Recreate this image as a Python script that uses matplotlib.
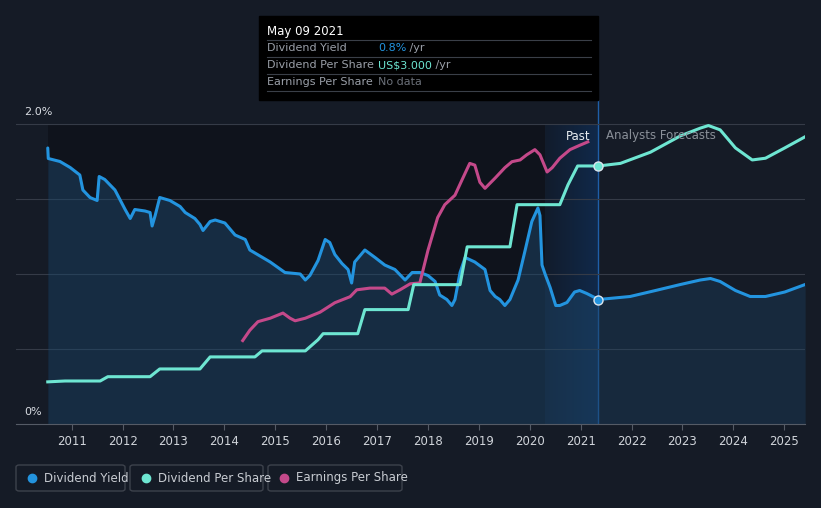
import numpy as np
import matplotlib.pyplot as plt
from matplotlib.patches import FancyBboxPatch, Rectangle
from matplotlib.lines import Line2D
from matplotlib.colors import LinearSegmentedColormap

# DATA
yield_t = [2010.53, 2010.54, 2010.77, 2010.97, 2011.16, 2011.22, 2011.36, 2011.50, 2011.54,
           2011.65, 2011.85, 2012.05, 2012.15, 2012.24, 2012.44, 2012.54, 2012.58, 2012.64,
           2012.73, 2012.93, 2013.13, 2013.23, 2013.42, 2013.52, 2013.58, 2013.72, 2013.82,
           2014.01, 2014.21, 2014.41, 2014.50, 2014.70, 2014.90, 2015.19, 2015.49, 2015.59,
           2015.68, 2015.84, 2015.98, 2016.07, 2016.17, 2016.31, 2016.43, 2016.50, 2016.56,
           2016.76, 2016.96, 2017.15, 2017.35, 2017.55, 2017.69, 2017.84, 2018.00, 2018.14,
           2018.23, 2018.37, 2018.47, 2018.53, 2018.63, 2018.73, 2018.92, 2019.12, 2019.22,
           2019.32, 2019.41, 2019.51, 2019.61, 2019.77, 2019.91, 2020.04, 2020.16, 2020.20,
           2020.24, 2020.30, 2020.40, 2020.51, 2020.59, 2020.73, 2020.88, 2020.98, 2021.12,
           2021.35]
yield_v = [1.84, 1.77, 1.75, 1.71, 1.66, 1.56, 1.51, 1.49, 1.65,
           1.63, 1.56, 1.43, 1.37, 1.43, 1.42, 1.41, 1.32, 1.39,
           1.51, 1.49, 1.45, 1.41, 1.37, 1.33, 1.29, 1.35, 1.36,
           1.34, 1.26, 1.23, 1.16, 1.12, 1.08, 1.01, 1.00, 0.96,
           0.99, 1.09, 1.23, 1.21, 1.13, 1.07, 1.03, 0.94, 1.08,
           1.16, 1.11, 1.06, 1.03, 0.96, 1.01, 1.01, 0.99, 0.95,
           0.86, 0.83, 0.79, 0.83, 1.01, 1.11, 1.08, 1.03, 0.89,
           0.85, 0.83, 0.79, 0.83, 0.96, 1.16, 1.35, 1.44, 1.39,
           1.06, 1.00, 0.91, 0.79, 0.79, 0.81, 0.88, 0.89, 0.87,
           0.83]
yield_fc_t = [2021.35, 2021.97, 2022.47, 2022.96, 2023.35, 2023.55, 2023.74, 2024.04,
              2024.33, 2024.63, 2025.01, 2025.41]
yield_fc_v = [0.83, 0.85, 0.89, 0.93, 0.96, 0.97, 0.95, 0.89, 0.85, 0.85, 0.88, 0.93]

dps_t = [2010.53, 2010.87, 2011.56, 2011.71, 2012.54, 2012.73, 2013.52, 2013.72, 2014.60,
         2014.74, 2015.59, 2015.84, 2015.94, 2016.62, 2016.76, 2017.61, 2017.72, 2018.63,
         2018.77, 2019.61, 2019.75, 2020.59, 2020.75, 2020.94, 2021.35]
dps_v = [0.49, 0.50, 0.50, 0.55, 0.55, 0.64, 0.64, 0.78, 0.78,
         0.85, 0.85, 0.98, 1.05, 1.05, 1.33, 1.33, 1.62, 1.62,
         2.06, 2.06, 2.55, 2.55, 2.78, 3.00, 3.00]
dps_fc_t = [2021.35, 2021.78, 2022.37, 2022.96, 2023.35, 2023.51, 2023.74, 2024.04,
            2024.37, 2024.63, 2025.01, 2025.41]
dps_fc_v = [3.00, 3.03, 3.16, 3.35, 3.44, 3.47, 3.42, 3.21, 3.07, 3.09, 3.21, 3.34]

eps_t = [2014.36, 2014.50, 2014.66, 2014.90, 2015.15, 2015.29, 2015.39, 2015.59, 2015.88,
         2016.17, 2016.47, 2016.60, 2016.86, 2017.15, 2017.29, 2017.45, 2017.65, 2017.84,
         2018.00, 2018.19, 2018.33, 2018.53, 2018.67, 2018.82, 2018.92, 2019.02, 2019.12,
         2019.32, 2019.51, 2019.65, 2019.81, 2019.94, 2020.10, 2020.20, 2020.34, 2020.44,
         2020.59, 2020.79, 2020.98, 2021.14]
eps_v = [0.97, 1.09, 1.19, 1.23, 1.29, 1.23, 1.20, 1.23, 1.30,
         1.41, 1.48, 1.56, 1.58, 1.58, 1.51, 1.56, 1.63, 1.64,
         2.02, 2.40, 2.55, 2.66, 2.84, 3.03, 3.01, 2.81, 2.74,
         2.86, 2.98, 3.05, 3.07, 3.13, 3.19, 3.13, 2.93, 2.98,
         3.09, 3.19, 3.24, 3.28]

years = list(range(2011, 2026))
now = 2021.35
past_start = 2020.30
data_start = 2010.53

# COLOURS
BG = '#151b26'
BLUE = '#2394df'
TEAL = '#6ee6d2'
PINK = '#c4498a'
W, H = 821, 508


def fx(px):
    return px / W


def fy(py):
    return 1 - py / H


fig = plt.figure(figsize=(8.21, 5.08), dpi=100, facecolor=BG)
ax = fig.add_axes([fx(16), fy(424), fx(805) - fx(16), fy(100) - fy(424)])
ax.set_facecolor(BG)
ax.set_xlim(2009.906, 2025.407)
ax.set_ylim(0, 2.16)

# past / highlight regions (below the 2.0% line)
ax.axvspan(data_start, past_start, ymax=2.0 / 2.16, color='#0b0e14', alpha=0.55, lw=0, zorder=0)
hl = LinearSegmentedColormap.from_list('hl', ['#121c2c', '#10294a'])
ax.imshow(np.linspace(0, 1, 50).reshape(1, -1), cmap=hl, aspect='auto',
          extent=[past_start, now, 0, 2.0], zorder=0)
ax.axvline(now, color='#1f5fa8', lw=1, zorder=1)

for g in [0.5, 1.0, 1.5, 2.0]:
    ax.axhline(g, color='#353b47', lw=0.8, zorder=1)

# dividend yield
ax.fill_between(yield_t, yield_v, 0, color='#1d4568', alpha=0.5, lw=0, zorder=2)
ax.fill_between(yield_fc_t, yield_fc_v, 0, color='#1d4568', alpha=0.35, lw=0, zorder=2)
ax.plot(yield_t, yield_v, color=BLUE, lw=2.2, zorder=4, solid_capstyle='round')
ax.plot(yield_fc_t, yield_fc_v, color=BLUE, lw=2.2, zorder=4, solid_capstyle='round')
ax.plot([now], [yield_v[-1]], 'o', ms=6.5, color=BLUE, mec='#dde6ee', mew=1, zorder=6)

# dps and eps on a hidden second scale
ax2 = ax.twinx()
ax2.set_ylim(0, 3.767)
ax2.set_xlim(ax.get_xlim())
ax2.axis('off')
ax2.plot(dps_t, dps_v, color=TEAL, lw=2.2, zorder=4)
ax2.plot(dps_fc_t, dps_fc_v, color=TEAL, lw=2.2, zorder=4)
ax2.plot(eps_t, eps_v, color=PINK, lw=2.2, zorder=3)
ax2.plot([now], [dps_v[-1]], 'o', ms=6.5, color=TEAL, mec='#dde6ee', mew=1, zorder=6)

# axes styling
for s in ['top', 'right', 'left']:
    ax.spines[s].set_visible(False)
ax.spines['bottom'].set_color('#555b66')
ax.set_yticks([])
ax.set_xticks(years)
ax.set_xticklabels([str(y) for y in years])
ax.tick_params(axis='x', colors='#555b66', length=4, labelcolor='#d0d4da', labelsize=8.5, pad=4)

fig.text(fx(24), fy(112), '2.0%', color='#d8dce2', fontsize=8, va='center')
fig.text(fx(24), fy(412), '0%', color='#d8dce2', fontsize=8, va='center')
fig.text(fx(590), fy(136), 'Past', color='#e8ecf0', fontsize=8.5, ha='right', va='center')
fig.text(fx(606), fy(136), 'Analysts Forecasts', color='#8a9099', fontsize=8.5, ha='left', va='center')

# tooltip
fig.patches.append(Rectangle((fx(259), fy(100)), fx(598) - fx(259), fy(16) - fy(100),
                             transform=fig.transFigure, color='#000000', zorder=10))
fig.text(fx(267), fy(31), 'May 09 2021', color='white', fontsize=8.5, va='center', zorder=11)
for ly in [40, 57, 74, 91]:
    fig.lines.append(Line2D([fx(267), fx(591)], [fy(ly), fy(ly)], transform=fig.transFigure,
                            color='#3a3f48', lw=0.8, zorder=11))
rows = [('Dividend Yield', '0.8%', BLUE, ' /yr'),
        ('Dividend Per Share', 'US$3.000', TEAL, ' /yr'),
        ('Earnings Per Share', 'No data', '#6b7079', '')]
for i, (lab, val, col, suf) in enumerate(rows):
    yy = fy(48 + 17 * i)
    fig.text(fx(267), yy, lab, color='#9a9fa8', fontsize=8, va='center', zorder=11)
    t = fig.text(fx(378), yy, val, color=col, fontsize=8, va='center', zorder=11)
    if suf:
        fig.canvas.draw()
        bb = t.get_window_extent()
        fig.text(bb.x1 / W, yy, suf, color='#9a9fa8', fontsize=8, va='center', zorder=11)

# legend boxes
legend = [('Dividend Yield', BLUE, 16, 125), ('Dividend Per Share', TEAL, 130, 263),
          ('Earnings Per Share', PINK, 268, 402)]
for lab, col, x0, x1 in legend:
    fig.patches.append(FancyBboxPatch((fx(x0), fy(491)), fx(x1) - fx(x0), fy(465) - fy(491),
                                      boxstyle='round,pad=0,rounding_size=0.004',
                                      transform=fig.transFigure, fc='none', ec='#3d424c', lw=1))
    fig.lines.append(Line2D([fx(x0 + 16)], [fy(478)], marker='o', ms=6, color=col,
                            transform=fig.transFigure))
    fig.text(fx(x0 + 28), fy(478), lab, color='#c8ccd2', fontsize=8.5, va='center')

fig.savefig('out.png', dpi=100, facecolor=BG)
